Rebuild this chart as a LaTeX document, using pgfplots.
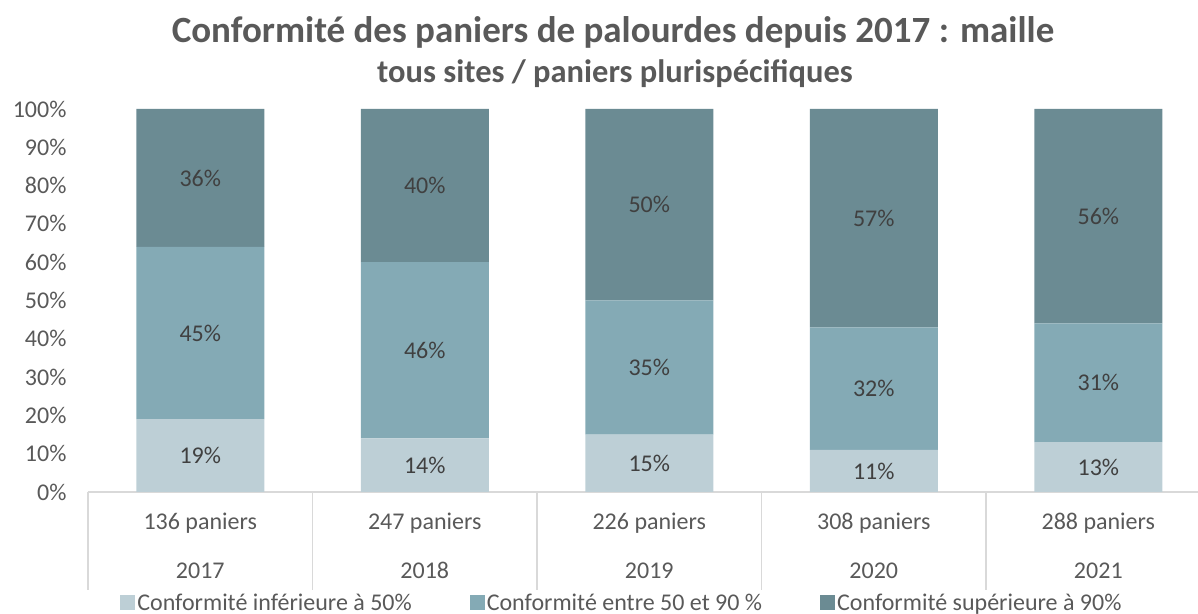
\documentclass[border=0pt]{standalone}
\usepackage{pgfplots}
\pgfplotsset{compat=1.18}
\usepackage{pgfplotstable}
\usepackage{fontspec}
\setmainfont{Carlito}
\definecolor{cA}{HTML}{BDCFD6}
\definecolor{cB}{HTML}{84AAB5}
\definecolor{cC}{HTML}{6B8B93}
\definecolor{txt}{HTML}{595959}
\definecolor{lbl}{HTML}{404040}
\definecolor{axl}{HTML}{D9D9D9}
\pgfplotstableread{
x low mid high
0 19 45 36
1 14 46 40
2 15 35 50
3 11 32 57
4 13 31 56
}\data
\begin{document}
\begin{tikzpicture}
\begin{axis}[name=ax,
  scale only axis, width=1110pt, height=383pt,
  ybar stacked, bar width=128pt,
  xmin=-0.5, xmax=4.444, ymin=0, ymax=100,
  clip=false,
  axis line style={draw=none},
  major tick length=0pt,
  /pgf/number format/assume math mode=true,
  ytick={0,10,...,100},
  yticklabel={\pgfmathprintnumber{\tick}\%},
  yticklabel style={font=\fontsize{24}{28}\selectfont, text=txt, xshift=-18pt},
  xtick={0,1,2,3,4},
  xticklabels={{136 paniers\\[21pt]2017},{247 paniers\\[21pt]2018},{226 paniers\\[21pt]2019},{308 paniers\\[21pt]2020},{288 paniers\\[21pt]2021}},
  xticklabel style={font=\fontsize{24}{28}\selectfont, text=txt, align=center, yshift=-17pt},
  nodes near coords={\pgfmathprintnumber{\pgfplotspointmeta}\%},
  every node near coord/.style={font=\fontsize{24}{28}\selectfont, text=lbl, anchor=center},
  legend columns=3,
  legend style={at={(0.481,-0.289)}, anchor=center, draw=none, fill=none,
    font=\fontsize{24}{28}\selectfont, text=txt,
    /tikz/every odd column/.append style={column sep=0pt},
    /tikz/every even column/.append style={column sep=56pt}},
  legend image code/.code={\fill[#1] (0pt,-7pt) rectangle (15pt,8pt);},
]
\addplot[fill=cA, draw=none, point meta=explicit] table[x=x, y=low, meta=low] {\data};
\addplot[fill=cB, draw=none, point meta=explicit] table[x=x, y=mid, meta=mid] {\data};
\addplot[fill=cC, draw=none, point meta=explicit] table[x=x, y=high, meta=high] {\data};
\legend{Conformité inférieure à 50\%, Conformité entre 50 et 90 \%, Conformité supérieure à 90\%}
\draw[axl, line width=1.5pt] (axis cs:-0.5,0) -- (axis cs:4.444,0);
\pgfplotsinvokeforeach{-0.5,0.5,1.5,2.5,3.5}{
  \draw[axl, line width=1.5pt] (axis cs:#1,0) -- ([yshift=-98pt]axis cs:#1,0);
}
\end{axis}
\node[font=\fontsize{37}{43}\selectfont\bfseries, text=txt] at ([xshift=-30pt, yshift=77pt]ax.north) {Conformité des paniers de palourdes depuis 2017 : maille};
\node[font=\fontsize{32.5}{38}\selectfont\bfseries, text=txt] at ([xshift=-28pt, yshift=35pt]ax.north) {tous sites / paniers plurispécifiques};
\pgfresetboundingbox
\path ([shift={(-88pt,-122pt)}]ax.south west) rectangle ([shift={(0pt,109pt)}]ax.north east);
\end{tikzpicture}
\end{document}
